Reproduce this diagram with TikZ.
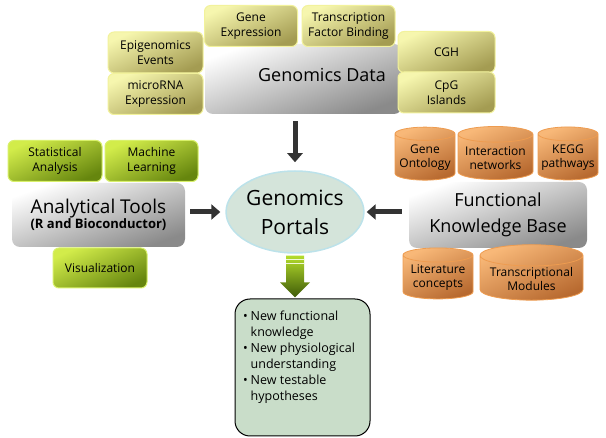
\documentclass[tikz,border=0pt]{standalone}
\usepackage{fontspec}
\setmainfont{Open Sans}
\usetikzlibrary{arrows.meta, positioning, shapes.geometric, calc}

\definecolor{ylwlight}{HTML}{F6F6AE}
\definecolor{ylwdark}{HTML}{A49C52}
\definecolor{ylwedge}{HTML}{F2F29C}
\definecolor{grnlight}{HTML}{D2EC4A}
\definecolor{grndark}{HTML}{66860E}
\definecolor{grnedge}{HTML}{D8F06A}
\definecolor{orglight}{HTML}{F8B878}
\definecolor{orgdark}{HTML}{B86A30}
\definecolor{orgedge}{HTML}{EE9C50}
\definecolor{graydark}{HTML}{8A8A8A}
\definecolor{portalfill}{HTML}{D4E4DA}
\definecolor{portaledge}{HTML}{BCE2EA}
\definecolor{outfill}{HTML}{C9DDC9}
\definecolor{arrowgray}{HTML}{333333}
\definecolor{arrowtop}{HTML}{B4DC2C}
\definecolor{arrowbot}{HTML}{3E5A08}

\begin{document}
\begin{tikzpicture}[x=1pt, y=-1pt,
    mainbox/.style={rounded corners=8pt, top color=white, bottom color=graydark, shading angle=20, minimum width=#1, align=center},
    datbox/.style={draw=ylwedge, line width=1pt, rounded corners=6pt, top color=ylwlight, bottom color=ylwdark, shading angle=25, minimum width=#1, minimum height=41pt, align=center, inner sep=1pt, font=\fontsize{12}{15}\selectfont},
    toolbox/.style={draw=grnedge, line width=1pt, rounded corners=6pt, top color=grnlight, bottom color=grndark, shading angle=25, minimum width=#1, minimum height=41pt, align=center, inner sep=1pt, font=\fontsize{12}{15}\selectfont},
    kbcyl/.style={cylinder, shape border rotate=90, aspect=0.25, draw=orgedge, line width=0.8pt, top color=orglight, bottom color=orgdark, shading angle=25, minimum width=#1, minimum height=53pt, align=center, inner sep=1pt, font=\fontsize{12}{14}\selectfont},
    bigarrow/.style={draw=arrowgray, line width=5pt, -{Triangle[length=9pt, width=15pt]}},
]
\useasboundingbox (0,0) rectangle (606,438);

% genomics data
\node[mainbox=197pt, minimum height=70pt] (gdmain) at (303.5,79) {};
\node[font=\fontsize{18}{22}\selectfont] (gdtext) at (322,75) {Genomics Data};
\node[datbox=93pt] (geneexp) at (251,26) {Gene\\Expression};
\node[datbox=93pt] (tfbind) at (348.5,26) {Transcription\\Factor Binding};
\node[datbox=95pt] (epigen) at (155.5,52.5) {Epigenomics\\Events};
\node[datbox=95pt] (mirna) at (155.5,94) {microRNA\\Expression};
\node[datbox=97pt] (cgh) at (446.5,52) {CGH};
\node[datbox=97pt] (cpg) at (446.5,92.5) {CpG\\Islands};

% analytical tools
\node[mainbox=173pt, minimum height=64pt] (atmain) at (98.5,215) {\fontsize{19}{23}\selectfont Analytical Tools\\[-1pt]\fontsize{13}{16}\selectfont\bfseries (R and Bioconductor)};
\node[toolbox=94pt] (stats) at (55,161) {Statistical\\Analysis};
\node[toolbox=93pt] (mlearn) at (151.5,161) {Machine\\Learning};
\node[toolbox=94pt, minimum height=40pt] (visual) at (100,268) {Visualization};

% functional knowledge base
\node[mainbox=178pt, minimum height=66pt, font=\fontsize{18}{26}\selectfont] (kbmain) at (498,215) {Functional\\Knowledge Base};
\node[kbcyl=60pt] (geneont) at (425,158) {Gene\\Ontology};
\node[kbcyl=75pt] (internet) at (495.5,158) {Interaction\\networks};
\node[kbcyl=60pt] (kegg) at (568,158) {KEGG\\pathways};
\node[kbcyl=70pt, minimum height=51pt] (litcon) at (438,278) {Literature\\concepts};
\node[kbcyl=103pt] (transmod) at (531.5,279) {Transcriptional\\Modules};

% portals
\node[ellipse, draw=portaledge, line width=1.5pt, fill=portalfill, minimum width=125pt, minimum height=82pt, align=center, inner sep=0pt, font=\fontsize{21}{29}\selectfont] (portal) at (295,212) {Genomics\\Portals};

% outcomes
\node[draw, line width=1pt, rounded corners=15pt, fill=outfill, minimum width=135pt, inner sep=8pt, font=\fontsize{12.5}{16}\selectfont] (outbox) at (302.5,367.5) {\parbox[t][121pt][t]{119pt}{\vspace*{2pt}\begin{tabular}{@{}c@{\hspace{3pt}}l@{}}
\textbullet & New functional\\ & knowledge\\
\textbullet & New physiological\\ & understanding\\
\textbullet & New testable\\ & hypotheses
\end{tabular}}};

% arrows
\shade[top color=arrowtop, bottom color=arrowbot]
    ($(portal.south)+(-9,2)$) -- ($(portal.south)+(9,2)$)
    -- ($(portal.south |- outbox.north)+(9,-16)$) -- ($(portal.south |- outbox.north)+(15,-16)$)
    -- ($(portal.south |- outbox.north)+(0,-1)$)
    -- ($(portal.south |- outbox.north)+(-15,-16)$) -- ($(portal.south |- outbox.north)+(-9,-16)$) -- cycle;
\draw[white!80!arrowtop, line width=1pt] ($(portal.south)+(-9,6)$) -- ($(portal.south)+(9,6)$)
    ($(portal.south)+(-9,10)$) -- ($(portal.south)+(9,10)$);

\draw[bigarrow, shorten <=7pt, shorten >=8pt] (portal.north |- gdmain.south) -- (portal.north);
\draw[bigarrow, shorten <=5pt, shorten >=5pt] (atmain.east |- portal.west) -- (portal.west);
\draw[bigarrow, shorten <=7pt, shorten >=2pt] (kbmain.west |- portal.east) -- (portal.east);

\end{tikzpicture}
\end{document}
